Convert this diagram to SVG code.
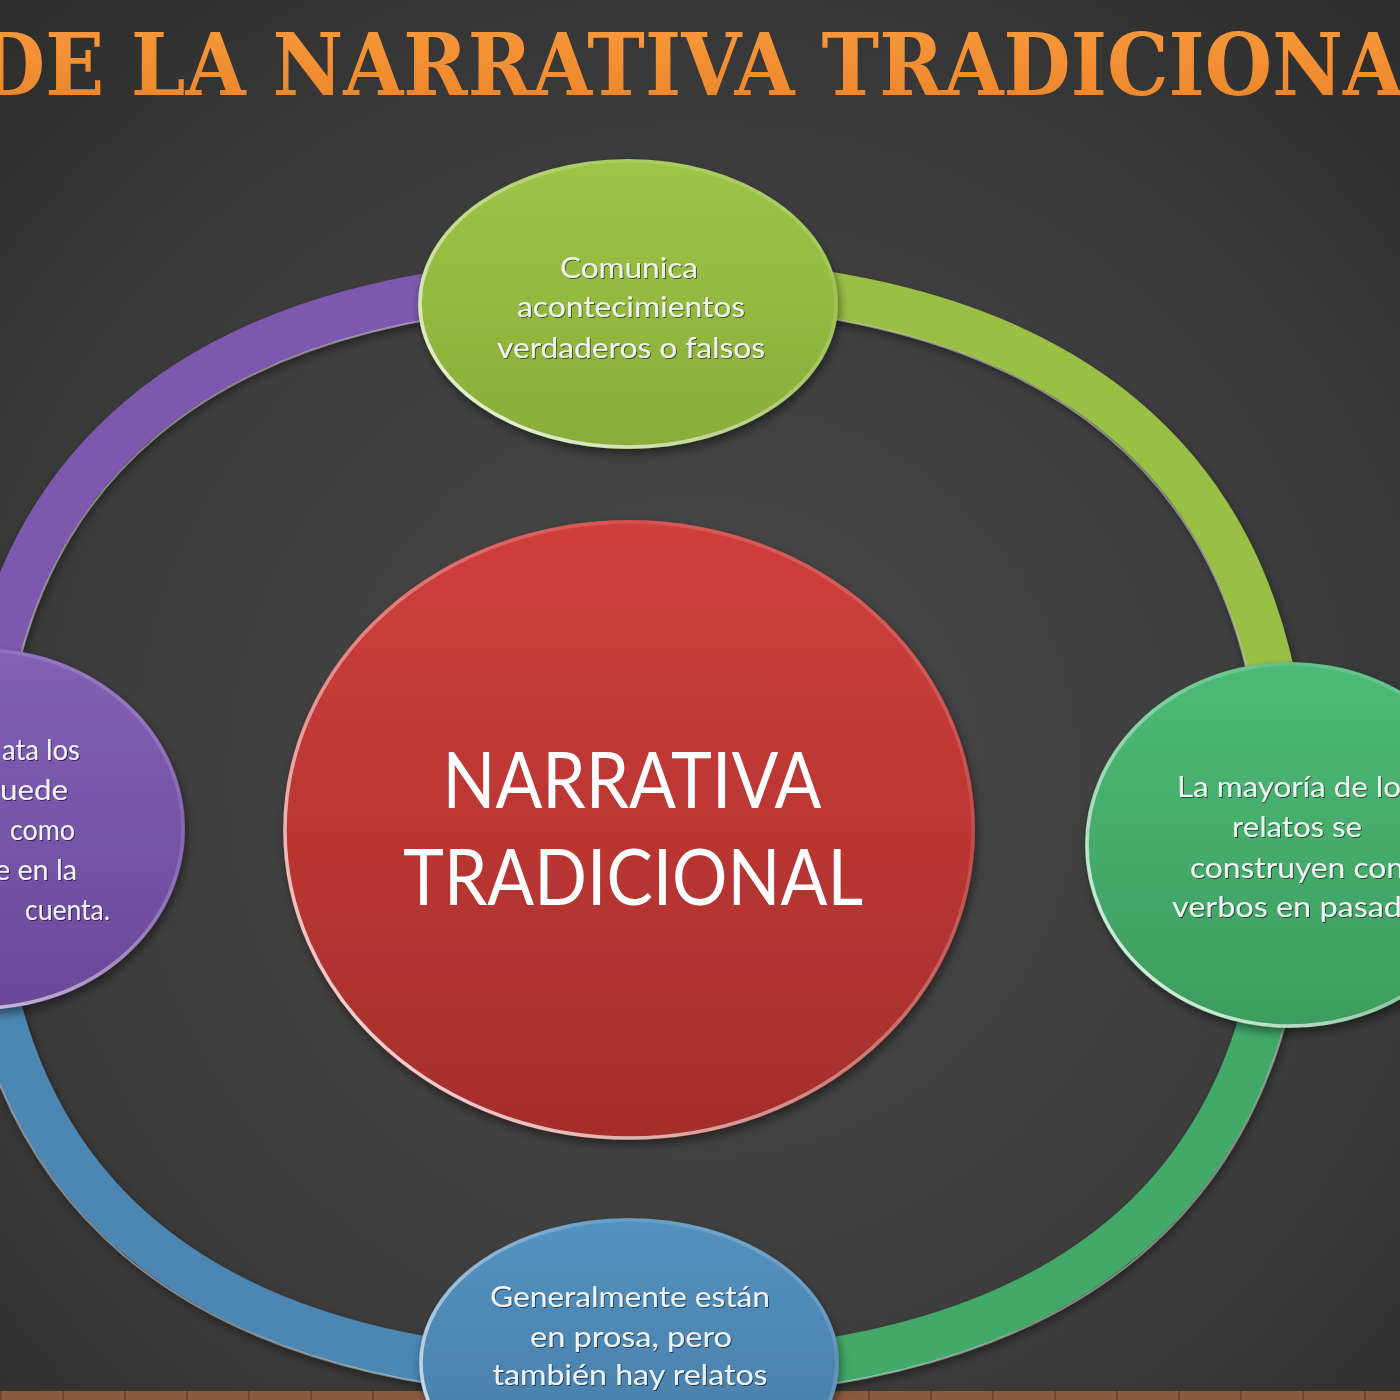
<svg xmlns="http://www.w3.org/2000/svg" width="1400" height="1400" viewBox="0 0 1400 1400">
<defs>
  <radialGradient id="bg" cx="700" cy="780" r="1050" gradientUnits="userSpaceOnUse">
    <stop offset="0" stop-color="#484848"/>
    <stop offset="0.55" stop-color="#3e3e3e"/>
    <stop offset="1" stop-color="#2c2c2c"/>
  </radialGradient>
  <linearGradient id="gTitle" x1="0" y1="0" x2="0" y2="1">
    <stop offset="0" stop-color="#f99b3b"/>
    <stop offset="1" stop-color="#ea832a"/>
  </linearGradient>
  <linearGradient id="gRed" x1="0" y1="0" x2="0" y2="1">
    <stop offset="0" stop-color="#d03f3c"/>
    <stop offset="1" stop-color="#a42e2b"/>
  </linearGradient>
  <linearGradient id="gLime" x1="0" y1="0" x2="0" y2="1">
    <stop offset="0" stop-color="#9dc548"/>
    <stop offset="1" stop-color="#89ad39"/>
  </linearGradient>
  <linearGradient id="gGreen" x1="0" y1="0" x2="0" y2="1">
    <stop offset="0" stop-color="#4dbb77"/>
    <stop offset="1" stop-color="#3d9c5e"/>
  </linearGradient>
  <linearGradient id="gPurple" x1="0" y1="0" x2="0" y2="1">
    <stop offset="0" stop-color="#8261b6"/>
    <stop offset="1" stop-color="#6a4898"/>
  </linearGradient>
  <linearGradient id="gBlue" x1="0" y1="0" x2="0" y2="1">
    <stop offset="0" stop-color="#5592bf"/>
    <stop offset="1" stop-color="#4479a3"/>
  </linearGradient>
  <linearGradient id="rim" x1="0" y1="1" x2="1" y2="0">
    <stop offset="0" stop-color="#ffffff" stop-opacity="0.95"/>
    <stop offset="0.4" stop-color="#ffffff" stop-opacity="0.45"/>
    <stop offset="0.75" stop-color="#ffffff" stop-opacity="0.1"/>
    <stop offset="1" stop-color="#ffffff" stop-opacity="0.25"/>
  </linearGradient>
  <filter id="shadow" x="-20%" y="-20%" width="140%" height="140%">
    <feDropShadow dx="2" dy="5" stdDeviation="5" flood-color="#000" flood-opacity="0.45"/>
  </filter>
  <filter id="tshadow" x="-5%" y="-20%" width="110%" height="140%">
    <feDropShadow dx="1" dy="1" stdDeviation="0.7" flood-color="#000" flood-opacity="0.55"/>
  </filter>
  <pattern id="wood" x="0" y="1391" width="62" height="9" patternUnits="userSpaceOnUse">
    <rect width="62" height="9" fill="#8b5a3e"/>
    <rect x="0" width="2" height="9" fill="#6e4630"/>
  </pattern>
  <style>
    .band { fill: none; stroke-width: 46; filter: url(#shadow); }
    .hl { fill: none; stroke: #ffffff; stroke-width: 2; stroke-opacity: 0.45; }
    .node { filter: url(#shadow); }
    .edge { fill: none; stroke: url(#rim); stroke-width: 3.5; }
    .t { font-family: Lato, "Open Sans", "Liberation Sans", sans-serif; font-size: 28px; fill: #eef2f2; filter: url(#tshadow); }
    .big { font-family: Lato, "Open Sans", "Liberation Sans", sans-serif; font-size: 78px; fill: #ffffff; text-anchor: middle; }
    .c { text-anchor: middle; }
    .e { text-anchor: end; }
    .title { font-family: "DejaVu Serif Condensed", "DejaVu Serif", "Liberation Serif", serif; font-size: 86px; font-weight: bold; fill: url(#gTitle); }
  </style>
</defs>

<rect width="1400" height="1400" fill="url(#bg)"/>
<rect x="0" y="1391" width="1400" height="9" fill="url(#wood)"/>

<g id="title">
  <text class="title" x="-22" y="95" textLength="1425" lengthAdjust="spacingAndGlyphs">DE LA NARRATIVA TRADICIONA</text>
</g>

<g id="connectors">
  <path class="band" stroke="#9abf45" d="M632,280 C1066.9,280 1287,464.1 1287,828"/>
  <path class="band" stroke="#43a967" d="M1287,828 C1287,1191.9 1066.9,1376 632,1376"/>
  <path class="band" stroke="#4b87b2" d="M632,1376 C197.1,1376 -23,1191.9 -23,828"/>
  <path class="band" stroke="#7e59ae" d="M-23,828 C-23,464.1 197.1,280 632,280"/>
  <path class="hl" d="M632,303 C1051.6,303 1264,479.4 1264,828"/>
  <path class="hl" d="M0,828 C0,479.4 212.4,303 632,303" stroke-opacity="0.3"/>
  <path class="hl" d="M632,1399 C181.8,1399 -46,1207.1 -46,828"/>
  <path class="hl" d="M1310,828 C1310,1207.1 1082.2,1399 632,1399" stroke-opacity="0.3"/>
</g>

<g id="node-center">
  <ellipse class="node" cx="629" cy="830" rx="346" ry="310" fill="url(#gRed)"/>
  <ellipse class="edge" cx="629" cy="830" rx="344" ry="308"/>
  <text class="big" x="632" y="808" textLength="379" lengthAdjust="spacingAndGlyphs">NARRATIVA</text>
  <text class="big" x="633" y="905" textLength="460" lengthAdjust="spacingAndGlyphs">TRADICIONAL</text>
</g>

<g id="node-top">
  <ellipse class="node" cx="628" cy="304" rx="210" ry="145" fill="url(#gLime)"/>
  <ellipse class="edge" cx="628" cy="304" rx="208" ry="143"/>
  <text class="t c" x="629" y="278" textLength="138" lengthAdjust="spacingAndGlyphs">Comunica</text>
  <text class="t c" x="631" y="317" textLength="228" lengthAdjust="spacingAndGlyphs">acontecimientos</text>
  <text class="t c" x="631" y="358" textLength="268" lengthAdjust="spacingAndGlyphs">verdaderos o falsos</text>
</g>

<g id="node-right">
  <ellipse class="node" cx="1290" cy="845" rx="205" ry="183" fill="url(#gGreen)"/>
  <ellipse class="edge" cx="1290" cy="845" rx="203" ry="181"/>
  <text class="t" x="1177" y="797" textLength="224" lengthAdjust="spacingAndGlyphs">La mayoría de lo</text>
  <text class="t c" x="1297" y="837" textLength="130" lengthAdjust="spacingAndGlyphs">relatos se</text>
  <text class="t" x="1190" y="878" textLength="214" lengthAdjust="spacingAndGlyphs">construyen con</text>
  <text class="t" x="1172" y="917" textLength="230" lengthAdjust="spacingAndGlyphs">verbos en pasad</text>
</g>

<g id="node-left">
  <ellipse class="node" cx="-20" cy="829" rx="205" ry="181" fill="url(#gPurple)"/>
  <ellipse class="edge" cx="-20" cy="829" rx="203" ry="179"/>
  <text class="t e" x="80" y="760" textLength="78" lengthAdjust="spacingAndGlyphs">ata los</text>
  <text class="t e" x="68" y="800" textLength="68" lengthAdjust="spacingAndGlyphs">uede</text>
  <text class="t e" x="75" y="840" textLength="65" lengthAdjust="spacingAndGlyphs">como</text>
  <text class="t e" x="77" y="880" textLength="82" lengthAdjust="spacingAndGlyphs">e en la</text>
  <text class="t e" x="110" y="920" textLength="85" lengthAdjust="spacingAndGlyphs">cuenta.</text>
</g>

<g id="node-bottom">
  <ellipse class="node" cx="629" cy="1363" rx="210" ry="145" fill="url(#gBlue)"/>
  <ellipse class="edge" cx="629" cy="1363" rx="208" ry="143"/>
  <text class="t c" x="630" y="1307" textLength="280" lengthAdjust="spacingAndGlyphs">Generalmente están</text>
  <text class="t c" x="631" y="1347" textLength="202" lengthAdjust="spacingAndGlyphs">en prosa, pero</text>
  <text class="t c" x="630" y="1385" textLength="275" lengthAdjust="spacingAndGlyphs">también hay relatos</text>
</g>
</svg>
